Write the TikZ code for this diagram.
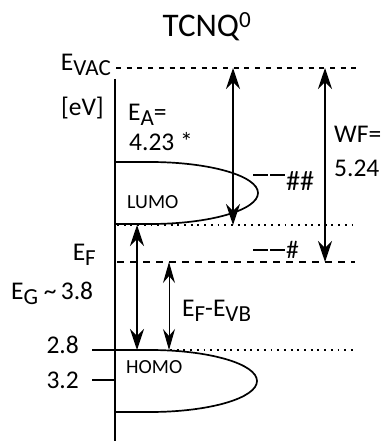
\documentclass[tikz,border=0pt]{standalone}
\usepackage{fontspec}
\setmainfont{Carlito}
\usetikzlibrary{arrows.meta}
\newcommand\dn[1]{\raisebox{-5pt}{\fontsize{23}{23}\selectfont #1}}
\newcommand\twodash[1]{\rule[#1]{15pt}{2pt}\hspace{2pt}\rule[#1]{15pt}{2pt}}
\begin{document}
\begin{tikzpicture}[x=1pt,y=-1pt,
  lbl/.style={font=\fontsize{25.5}{28}\selectfont, inner sep=0pt},
  smalllbl/.style={font=\fontsize{20}{22}\selectfont, inner sep=0pt},
  titlelbl/.style={font=\fontsize{33}{36}\selectfont, inner sep=0pt},
  axisline/.style={line width=1.7pt},
  bandline/.style={line width=1.7pt},
  bigarrow/.style={line width=1.5pt, {Stealth[length=21pt,width=14pt,inset=7pt]}-{Stealth[length=21pt,width=14pt,inset=7pt]}},
  thinarrow/.style={line width=1pt, {Stealth[length=21pt,width=12pt,inset=7pt]}-{Stealth[length=21pt,width=12pt,inset=7pt]}},
  vacdash/.style={line width=1.3pt, dash pattern=on 5pt off 5.7pt},
  fermidash/.style={line width=1.5pt, dash pattern=on 7pt off 6pt},
  lvldot/.style={line width=1.9pt, dash pattern=on 1.9pt off 4.8pt}
]
\useasboundingbox (0,0) rectangle (385,441);

% title
\node[titlelbl] (title) at (207,27) {TCNQ\textsuperscript{0}};

% axis
\coordinate (axT) at (115,79);
\coordinate (axB) at (115,441);
\draw[axisline] (axT) -- (axB);

% levels
\coordinate (vacL) at (116,68);
\coordinate (vacR) at (357,68);
\draw[vacdash] (vacL) -- (vacR);

\coordinate (lumoL) at (117,225);
\coordinate (lumoR) at (353,225);
\draw[lvldot] (lumoL) -- (lumoR);

\coordinate (efL) at (117,262);
\coordinate (efR) at (355,262);
\draw[fermidash] (efL) -- (efR);

\coordinate (homoL) at (170,350);
\coordinate (homoR) at (353,350);
\draw[lvldot] (homoL) -- (homoR);

% ticks
\coordinate (t28a) at (92,350);
\coordinate (t28b) at (115,350);
\coordinate (t32a) at (92,380);
\coordinate (t32b) at (115,380);
\draw[bandline] (t28a) -- (t28b);
\draw[bandline] (t32a) -- (t32b);

% LUMO band
\draw[bandline] (115,162) -- (150,162)
  arc[start angle=90, end angle=-90, x radius=108pt, y radius=31pt] -- (115,224);
% HOMO band
\draw[bandline] (115,350) -- (150,350)
  arc[start angle=90, end angle=-90, x radius=107pt, y radius=31pt] -- (115,412);

% arrows
\coordinate (eaT) at (233,68);
\coordinate (eaB) at (233,225);
\draw[bigarrow] (eaT) -- (eaB);
\coordinate (wfT) at (325,68);
\coordinate (wfB) at (325,262);
\draw[bigarrow] (wfT) -- (wfB);
\coordinate (egT) at (137,225);
\coordinate (egB) at (137,350);
\draw[bigarrow] (egT) -- (egB);
\coordinate (fvT) at (169,262);
\coordinate (fvB) at (169,350);
\draw[thinarrow] (fvT) -- (fvB);

% labels
\node[lbl, anchor=base east] (evac) at (111,71) {E\dn{VAC}};
\node[lbl, anchor=base east] (ev) at (104,115) {[eV]};
\node[lbl, anchor=base west] (ea) at (128,121) {E\dn{A}=};
\node[lbl, anchor=base west] (eaval) at (129,150) {4.23 *};
\node[lbl, anchor=base west] (wf) at (334,142) {WF=};
\node[lbl, anchor=base west] (wfval) at (334,176) {5.24};
\node[smalllbl, anchor=base west] (lumo) at (127,208) {LUMO};
\node[lbl, anchor=base west] (hh) at (253,190) {\twodash{14pt}\hspace{1pt}{\fontsize{28}{30}\selectfont\#\#}};
\node[lbl, anchor=base west] (h) at (253,258) {\twodash{7pt}\hspace{1pt}\#};
\node[lbl, anchor=base east] (ef) at (96,260) {E\dn{F}};
\node[lbl, anchor=base west] (eg) at (11,299) {E\dn{G} \textasciitilde\,3.8};
\node[lbl, anchor=base west] (efvb) at (182,316) {E\dn{F}-E\dn{VB}};
\node[lbl, anchor=base east] (v28) at (79,353) {2.8};
\node[lbl, anchor=base east] (v32) at (79,388) {3.2};
\node[smalllbl, anchor=base west] (homo) at (126,373) {HOMO};
\end{tikzpicture}
\end{document}
